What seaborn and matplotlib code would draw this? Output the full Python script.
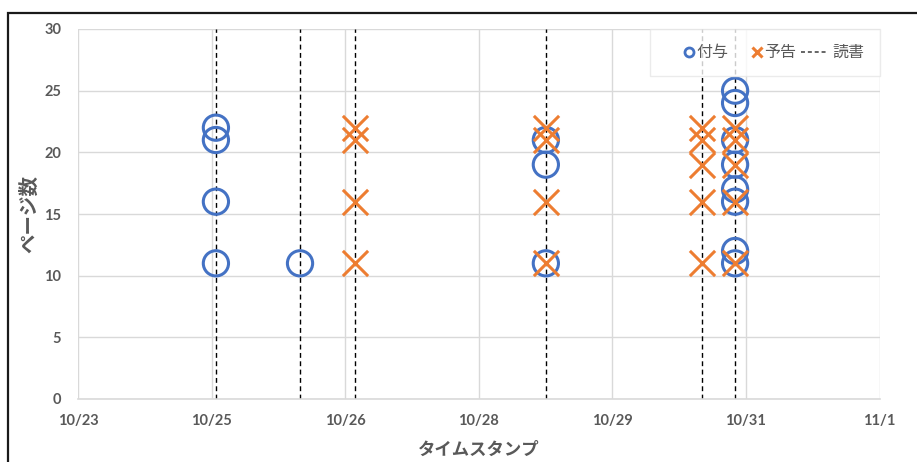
import matplotlib
matplotlib.use("Agg")
import matplotlib.pyplot as plt
from matplotlib.lines import Line2D
from matplotlib.legend_handler import HandlerLine2D
from matplotlib.patches import Rectangle
import pandas as pd
import seaborn as sns

# 付与 (granted) records
grant_times = ["2023-10-25 01:10"] * 4 + ["2023-10-25 23:50"] + ["2023-10-28 18:05"] * 3 + ["2023-10-30 21:05"] * 8
grant_pages = [22, 21, 16, 11, 11, 21, 19, 11, 25, 24, 21, 19, 17, 16, 12, 11]

# 予告 (notice) records
notice_times = (["2023-10-26 14:35"] * 4 + ["2023-10-28 18:05"] * 4
                + ["2023-10-30 12:10"] * 5 + ["2023-10-30 21:05"] * 5)
notice_pages = [22, 21, 16, 11, 22, 21, 16, 11, 22, 21, 19, 16, 11, 22, 21, 19, 16, 11]

# 読書 (reading) sessions
reading_times = ["2023-10-25 01:10", "2023-10-25 23:50", "2023-10-26 14:35",
                 "2023-10-28 18:05", "2023-10-30 12:10", "2023-10-30 21:05"]

# axis ticks
x_ticks = ["2023-10-23 12:00", "2023-10-25 00:00", "2023-10-26 12:00", "2023-10-28 00:00",
           "2023-10-29 12:00", "2023-10-31 00:00", "2023-11-01 12:00"]
x_tick_labels = ["10/23", "10/25", "10/26", "10/28", "10/29", "10/31", "11/1"]
y_ticks = [0, 5, 10, 15, 20, 25, 30]

grant = pd.DataFrame({"time": pd.to_datetime(grant_times), "pages": grant_pages})
notice = pd.DataFrame({"time": pd.to_datetime(notice_times), "pages": notice_pages})

BLUE = "#4472C4"
ORANGE = "#ED7D31"
GRAY = "#595959"
GRID = "#D9D9D9"
JP = ["Noto Sans CJK JP", "DejaVu Sans"]
NUM = ["Lato", "DejaVu Sans"]

sns.set_theme(style="white")
plt.rcParams["font.family"] = JP


class MarkerAtEnd(HandlerLine2D):
    """Legend handler that puts a single marker next to its label."""

    def create_artists(self, legend, orig_handle, xdescent, ydescent, width, height,
                       fontsize, trans):
        artists = super().create_artists(legend, orig_handle, xdescent, ydescent, width,
                                         height, fontsize, trans)
        for a in artists:
            a.set_xdata([width - xdescent - 0.2 * fontsize])
        return artists


W, H = 917, 462
fig = plt.figure(figsize=(W / 100, H / 100), dpi=100)
fig.patch.set_facecolor("white")

# outer frame
fig.add_artist(Rectangle((8 / W, -0.1), 1.2, 1 - 13 / H + 0.1, transform=fig.transFigure,
                         fill=False, edgecolor="#1a1a1a", linewidth=1.6))

left, right, top, bottom = 78, 879.5, 29, 399
ax = fig.add_axes([left / W, 1 - bottom / H, (right - left) / W, (bottom - top) / H])

for t in pd.to_datetime(reading_times):
    ax.axvline(t, color="black", linewidth=1.0, linestyle=(0, (3.5, 2.5)), zorder=2)

sns.scatterplot(data=grant, x="time", y="pages", ax=ax, marker="o", s=330,
                facecolors="none", edgecolor=BLUE, linewidth=2.2, zorder=3)
sns.scatterplot(data=notice, x="time", y="pages", ax=ax, marker="x", s=330,
                color=ORANGE, linewidth=2.2, zorder=4)

xt = pd.to_datetime(x_ticks)
ax.set_xlim(xt[0], xt[-1])
ax.set_ylim(0, 30)
ax.set_xticks(xt)
ax.set_xticklabels(x_tick_labels)
ax.set_yticks(y_ticks)

ax.grid(True, color=GRID, linewidth=1.0, zorder=0)
ax.set_axisbelow(True)
for name, sp in ax.spines.items():
    sp.set_visible(name == "bottom")
ax.spines["bottom"].set_color(GRID)
ax.spines["bottom"].set_linewidth(1.2)

ax.tick_params(axis="both", length=0, colors=GRAY, labelsize=10.5)
ax.tick_params(axis="x", pad=11)
ax.tick_params(axis="y", pad=12)
for lab in ax.get_xticklabels() + ax.get_yticklabels():
    lab.set_fontfamily(NUM)
    lab.set_fontweight("bold")

ax.set_xlabel("タイムスタンプ", fontsize=12.5, fontweight="bold", color=GRAY)
ax.set_ylabel("ページ数", fontsize=14, fontweight="bold", color=GRAY)
ax.xaxis.set_label_coords(0.5, -(441 - bottom) / (bottom - top))
ax.yaxis.set_label_coords(-(left - 30) / (right - left), 0.5)
ax.xaxis.label.set_verticalalignment("top")
ax.yaxis.label.set_horizontalalignment("center")
ax.yaxis.label.set_verticalalignment("center")

handles = [
    Line2D([], [], marker="o", linestyle="none", markersize=6.5, markerfacecolor="none",
           markeredgecolor=BLUE, markeredgewidth=2),
    Line2D([], [], marker="x", linestyle="none", markersize=6.5, color=ORANGE,
           markeredgewidth=2.2),
    Line2D([], [], color=GRAY, linewidth=1.3, linestyle=(0, (2.2, 1.6))),
]
leg = ax.legend(handles, ["付与", "予告", "読書"], loc="upper right", ncol=3,
                bbox_to_anchor=(1.0, 1.0), borderaxespad=0.0, frameon=True, fancybox=False,
                fontsize=11.5, handlelength=1.7, handletextpad=0.25, columnspacing=0.3,
                borderpad=0.95, labelcolor=GRAY,
                handler_map={handles[0]: MarkerAtEnd(), handles[1]: MarkerAtEnd()})
leg.get_frame().set_edgecolor("#E6E6E6")
leg.get_frame().set_linewidth(1.0)
leg.set_zorder(10)

fig.savefig("out.png", dpi=100, facecolor="white")
